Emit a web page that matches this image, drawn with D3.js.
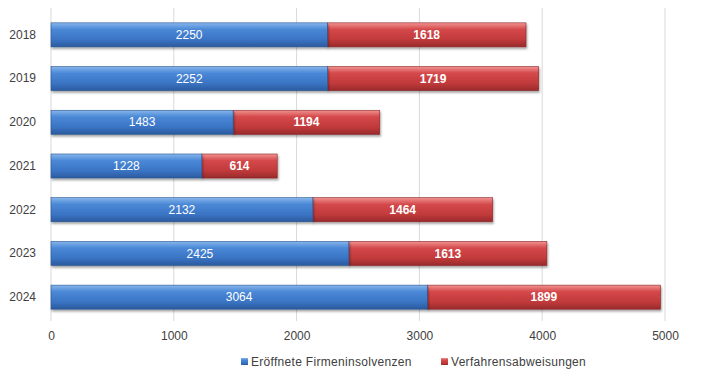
<!DOCTYPE html>
<html>
<head>
    <meta charset="utf-8">
    <title>Firmeninsolvenzen</title>
    <script src="https://cdnjs.cloudflare.com/ajax/libs/d3/7.8.5/d3.min.js"></script>
    <style>
        html, body {
            margin: 0;
            padding: 0;
            background: #ffffff;
        }
        #chart text {
            font-family: "Liberation Sans", Arial, sans-serif;
        }
    </style>
</head>
<body>
    <div id="chart"></div>
    <script>
        const years = ['2018', '2019', '2020', '2021', '2022', '2023', '2024'];
        const eroeffnet = [2250, 2252, 1483, 1228, 2132, 2425, 3064];
        const abweisungen = [1618, 1719, 1194, 614, 1464, 1613, 1899];
        const xTicks = [0, 1000, 2000, 3000, 4000, 5000];
        const seriesNames = ['Eröffnete Firmeninsolvenzen', 'Verfahrensabweisungen'];

        const width = 724, height = 377;
        const margin = { top: 13, right: 59, bottom: 58, left: 51 };

        const svg = d3.select('#chart')
            .append('svg')
            .attr('width', width)
            .attr('height', height);

        // gradients for the glossy bars
        const defs = svg.append('defs');
        const gradients = [
            { id: 'g-blue', stops: ['#86b5ec', '#4a88d6', '#3a74c4', '#2b5a9e'] },
            { id: 'g-red', stops: ['#f09290', '#d4484a', '#c13a3b', '#982a2c'] }
        ];
        gradients.forEach(g => {
            const lg = defs.append('linearGradient')
                .attr('id', g.id)
                .attr('x1', 0).attr('y1', 0).attr('x2', 0).attr('y2', 1);
            [0, 0.28, 0.7, 1].forEach((o, i) => {
                lg.append('stop').attr('offset', o).attr('stop-color', g.stops[i]);
            });
        });
        const filter = defs.append('filter').attr('id', 'shadow')
            .attr('x', '-5%').attr('y', '-20%').attr('width', '110%').attr('height', '160%');
        filter.append('feDropShadow')
            .attr('dx', 1).attr('dy', 2).attr('stdDeviation', 1.2)
            .attr('flood-color', '#000').attr('flood-opacity', 0.35);

        const x = d3.scaleLinear()
            .domain([0, 5000])
            .range([margin.left, width - margin.right]);

        const y = d3.scaleBand()
            .domain(years)
            .range([margin.top, height - margin.bottom])
            .paddingInner(0.45)
            .paddingOuter(0.225);

        // grid lines
        svg.append('g')
            .selectAll('line')
            .data(xTicks)
            .enter()
            .append('line')
            .attr('x1', d => x(d)).attr('x2', d => x(d))
            .attr('y1', 8).attr('y2', height - margin.bottom + 2)
            .attr('stroke', '#d9d9d9')
            .attr('stroke-width', 1);

        // x axis labels
        const xAxis = d3.axisBottom(x)
            .tickValues(xTicks)
            .tickSize(0)
            .tickPadding(10)
            .tickFormat(d3.format('d'));
        const xg = svg.append('g')
            .attr('transform', 'translate(0,' + (height - margin.bottom + 2) + ')')
            .call(xAxis);
        xg.select('.domain').remove();
        xg.selectAll('text').attr('fill', '#404040').style('font-size', '12px');

        // y axis labels
        const yAxis = d3.axisLeft(y).tickSize(0).tickPadding(15);
        const yg = svg.append('g')
            .attr('transform', 'translate(' + margin.left + ',0)')
            .call(yAxis);
        yg.select('.domain').remove();
        yg.selectAll('text').attr('fill', '#404040').style('font-size', '12px');

        const rows = years.map((yr, i) => ({ year: yr, a: eroeffnet[i], b: abweisungen[i] }));

        const barG = svg.append('g');
        // red segments first so blue sits on top at the join
        barG.selectAll('rect.red')
            .data(rows)
            .enter()
            .append('rect')
            .attr('class', 'red')
            .attr('x', d => x(d.a))
            .attr('y', d => y(d.year))
            .attr('width', d => x(d.a + d.b) - x(d.a))
            .attr('height', y.bandwidth())
            .attr('fill', 'url(#g-red)')
            .attr('stroke', '#8a2426')
            .attr('stroke-width', 0.6)
            .attr('filter', 'url(#shadow)');

        barG.selectAll('rect.blue')
            .data(rows)
            .enter()
            .append('rect')
            .attr('class', 'blue')
            .attr('x', x(0))
            .attr('y', d => y(d.year))
            .attr('width', d => x(d.a) - x(0))
            .attr('height', y.bandwidth())
            .attr('fill', 'url(#g-blue)')
            .attr('stroke', '#2a568f')
            .attr('stroke-width', 0.6)
            .attr('filter', 'url(#shadow)');

        // value labels
        barG.selectAll('text.lblA')
            .data(rows)
            .enter()
            .append('text')
            .attr('x', d => (x(0) + x(d.a)) / 2)
            .attr('y', d => y(d.year) + y.bandwidth() / 2)
            .attr('dy', '0.35em')
            .attr('text-anchor', 'middle')
            .attr('fill', '#ffffff')
            .style('font-size', '12px')
            .text(d => d.a);

        barG.selectAll('text.lblB')
            .data(rows)
            .enter()
            .append('text')
            .attr('x', d => (x(d.a) + x(d.a + d.b)) / 2)
            .attr('y', d => y(d.year) + y.bandwidth() / 2)
            .attr('dy', '0.35em')
            .attr('text-anchor', 'middle')
            .attr('fill', '#ffffff')
            .style('font-size', '12px')
            .style('font-weight', 'bold')
            .text(d => d.b);

        // legend
        const legendItems = [
            { name: seriesNames[0], fill: 'url(#g-blue)', x: 241 },
            { name: seriesNames[1], fill: 'url(#g-red)', x: 441 }
        ];
        const lg = svg.append('g');
        legendItems.forEach(item => {
            lg.append('rect')
                .attr('x', item.x).attr('y', 358)
                .attr('width', 7).attr('height', 7)
                .attr('fill', item.fill);
            lg.append('text')
                .attr('x', item.x + 10).attr('y', 361.5)
                .attr('dy', '0.35em')
                .attr('fill', '#404040')
                .style('font-size', '12px')
                .style('letter-spacing', '0.3px')
                .text(item.name);
        });
    </script>
</body>
</html>
